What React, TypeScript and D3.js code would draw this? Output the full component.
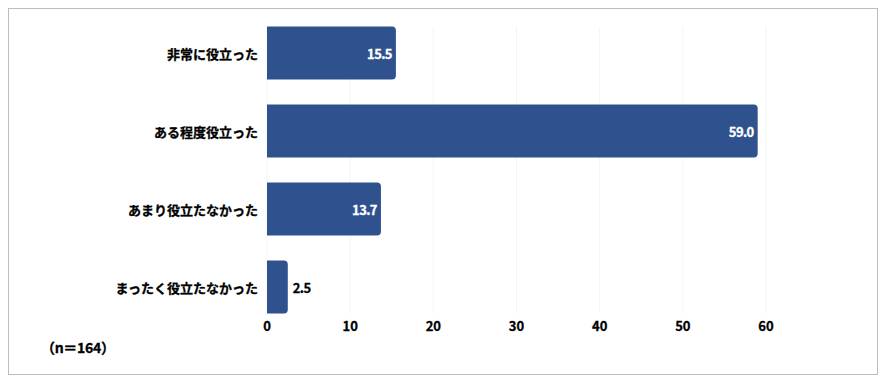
import React from "react";
import * as d3 from "d3";

const categories = ["非常に役立った", "ある程度役立った", "あまり役立たなかった", "まったく役立たなかった"];
const values = [15.5, 59.0, 13.7, 2.5];
const ticks = [0, 10, 20, 30, 40, 50, 60];
const note = "（n＝164）";

const W = 870;
const H = 367;
const FONT = "'Noto Sans CJK JP', 'Noto Sans', sans-serif";

export default function App() {
  const x = d3.scaleLinear().domain([0, 60]).range([259, 758]);
  const y = d3
    .scaleBand<string>()
    .domain(categories)
    .range([6, 318])
    .paddingInner(0.32)
    .paddingOuter(0.16);
  const bw = y.bandwidth();
  const gridTop = y(categories[0])!;
  const gridBottom = y(categories[categories.length - 1])! + bw;
  const r = 4;

  const barPath = (v: number, cat: string) => {
    const x0 = x(0);
    const x1 = x(v);
    const y0 = y(cat)!;
    const y1 = y0 + bw;
    const rr = Math.min(r, (x1 - x0) / 2);
    return `M${x0},${y0}H${x1 - rr}Q${x1},${y0} ${x1},${y0 + rr}V${y1 - rr}Q${x1},${y1} ${x1 - rr},${y1}H${x0}Z`;
  };

  return (
    <svg width={W} height={H} style={{ display: "block" }} fontFamily={FONT}>
      <rect x={0.5} y={0.5} width={W - 1} height={H - 1} fill="#fff" stroke="#bdbdbd" />
      {ticks.map((t) => (
        <line key={t} x1={x(t)} x2={x(t)} y1={gridTop} y2={gridBottom} stroke="#f4f4f4" strokeWidth={1} />
      ))}
      {categories.map((c, i) => {
        const v = values[i];
        const inside = x(v) - x(0) > 40;
        const cy = y(c)! + bw / 2;
        return (
          <g key={c}>
            <path d={barPath(v, c)} fill="#2f528f" />
            <text
              x={x(0) - 9}
              y={cy}
              textAnchor="end"
              dominantBaseline="central"
              fontSize={13}
              fontWeight="bold"
              fill="#000"
              stroke="#000"
              strokeWidth={0.3}
            >
              {c}
            </text>
            <text
              x={inside ? x(v) - 4 : x(v) + 5}
              y={cy}
              textAnchor={inside ? "end" : "start"}
              dominantBaseline="central"
              fontSize={13}
              fontWeight="bold"
              fill={inside ? "#fff" : "#000"}
              stroke={inside ? "#fff" : "#000"}
              strokeWidth={0.3}
              letterSpacing={-0.6}
            >
              {v.toFixed(1)}
            </text>
          </g>
        );
      })}
      {ticks.map((t) => (
        <text
          key={t}
          x={x(t)}
          y={gridBottom + 12}
          textAnchor="middle"
          dominantBaseline="central"
          fontSize={13}
          fontWeight="bold"
          fill="#000"
          stroke="#000"
          strokeWidth={0.3}
        >
          {t}
        </text>
      ))}
      <text
        x={33}
        y={339}
        dominantBaseline="central"
        fontSize={14}
        fontWeight="bold"
        fill="#000"
        stroke="#000"
        strokeWidth={0.3}
        letterSpacing={-0.3}
      >
        {note}
      </text>
    </svg>
  );
}
